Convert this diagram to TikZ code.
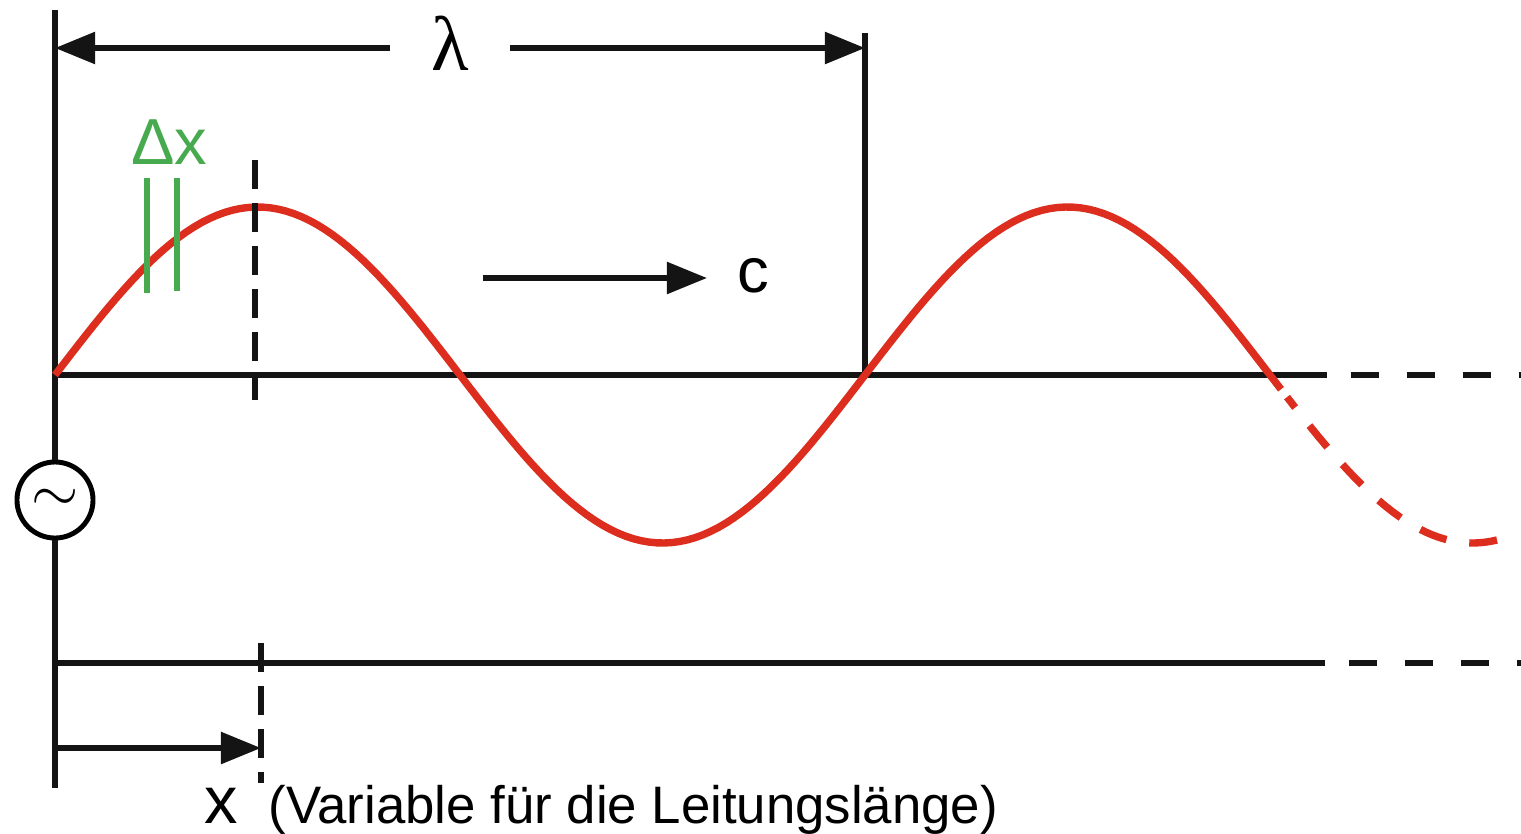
\documentclass[tikz,border=0pt]{standalone}
\usepackage{fontspec}
\setmainfont{Liberation Sans}
\newfontfamily\greekserif{Liberation Serif}
\usepackage{tikz}
\usetikzlibrary{arrows.meta}
\definecolor{wavered}{RGB}{220,45,30}
\definecolor{dxgreen}{RGB}{72,170,78}

\begin{document}
\begin{tikzpicture}[x=0.01cm, y=-0.01cm,
		>={Triangle[length=0.4cm, width=0.31cm]},
		wire/.style={line width=1.55pt, black!92},
		dashwire/.style={wire, dash pattern=on 0.28cm off 0.28cm},
		marker/.style={wire, dash pattern=on 0.29cm off 0.14cm},
		wave/.style={line width=2.1pt, wavered},
		dxline/.style={line width=1.6pt, dxgreen},
		gen/.style={circle, draw, line width=1.4pt, minimum size=0.76cm, inner sep=0pt},
		lbl/.style={inner sep=0pt}]

	\useasboundingbox (0,0) rectangle (1521,833);

	% source and left conductor
	\coordinate (top) at (55,10);
	\coordinate (bot) at (55,788);
	\node[gen] (g) at (55,500) {\fontsize{17}{17}\selectfont$\sim$};
	\draw[wire] (top) to (g);
	\draw[wire] (g) to (bot);

	% upper and lower line
	\coordinate (u0) at (55,375);
	\coordinate (u1) at (1327,375);
	\coordinate (u2) at (1521,375);
	\coordinate (d0) at (55,663);
	\coordinate (d1) at (1325,663);
	\coordinate (d2) at (1521,663);
	\draw[wire] (u0) to (u1);
	\draw[dashwire] ([xshift=0.24cm]u1) to (u2);
	\draw[wire] (d0) to (d1);
	\draw[dashwire] ([xshift=0.24cm]d1) to (d2);

	% wavelength
	\node[lbl] (lam) at (450,43) {\greekserif\fontsize{22}{22}\selectfont λ};
	\coordinate (la) at (55,48);
	\coordinate (lb) at (865,48);
	\coordinate (lc) at (865,33);
	\coordinate (ld) at (865,375);
	\draw[wire, ->] (390,48) coordinate (l1) to (la);
	\draw[wire, ->] (510,48) coordinate (l2) to (lb);
	\draw[wire] (lc) to (ld);

	% the wave
	\draw[wave] plot[domain=55:1281, samples=160] (\x, {375-168*sin((\x-55)/810*360)});
	\draw[wave, dash pattern=on 0.28cm off 0.23cm]
		plot[domain=1497:1287, samples=40] (\x, {375-168*sin((\x-55)/810*360)});

	% section dx
	\node[lbl, dxgreen] (dx) at (169,142) {\fontsize{18.5}{18.5}\selectfont Δx};
	\coordinate (g1a) at (147,178);
	\coordinate (g1b) at (147,293);
	\coordinate (g2a) at (177,178);
	\coordinate (g2b) at (177,291);
	\draw[dxline] (g1a) to (g1b);
	\draw[dxline] (g2a) to (g2b);

	% propagation
	\node[lbl] (c) at (753,276) {\fontsize{18}{18}\selectfont c};
	\coordinate (c0) at (483,278);
	\draw[wire, ->] (c0) to (707,278);

	% position markers
	\coordinate (m1a) at (255,160);
	\coordinate (m1b) at (255,400);
	\draw[marker] (m1a) to (m1b);
	\coordinate (m2a) at (261,643);
	\coordinate (m2b) at (261,783);
	\draw[marker] (m2a) to (m2b);

	% length x
	\coordinate (xa) at (55,748);
	\coordinate (xb) at (261,748);
	\draw[wire, ->] (xa) to (xb);
	\node[lbl, anchor=base] (x) at (221,823) {\fontsize{19}{19}\selectfont x};
	\node[lbl, anchor=base west] (note) at (268,823) {\fontsize{15}{15}\selectfont (Variable für die Leitungslänge)};

\end{tikzpicture}
\end{document}
